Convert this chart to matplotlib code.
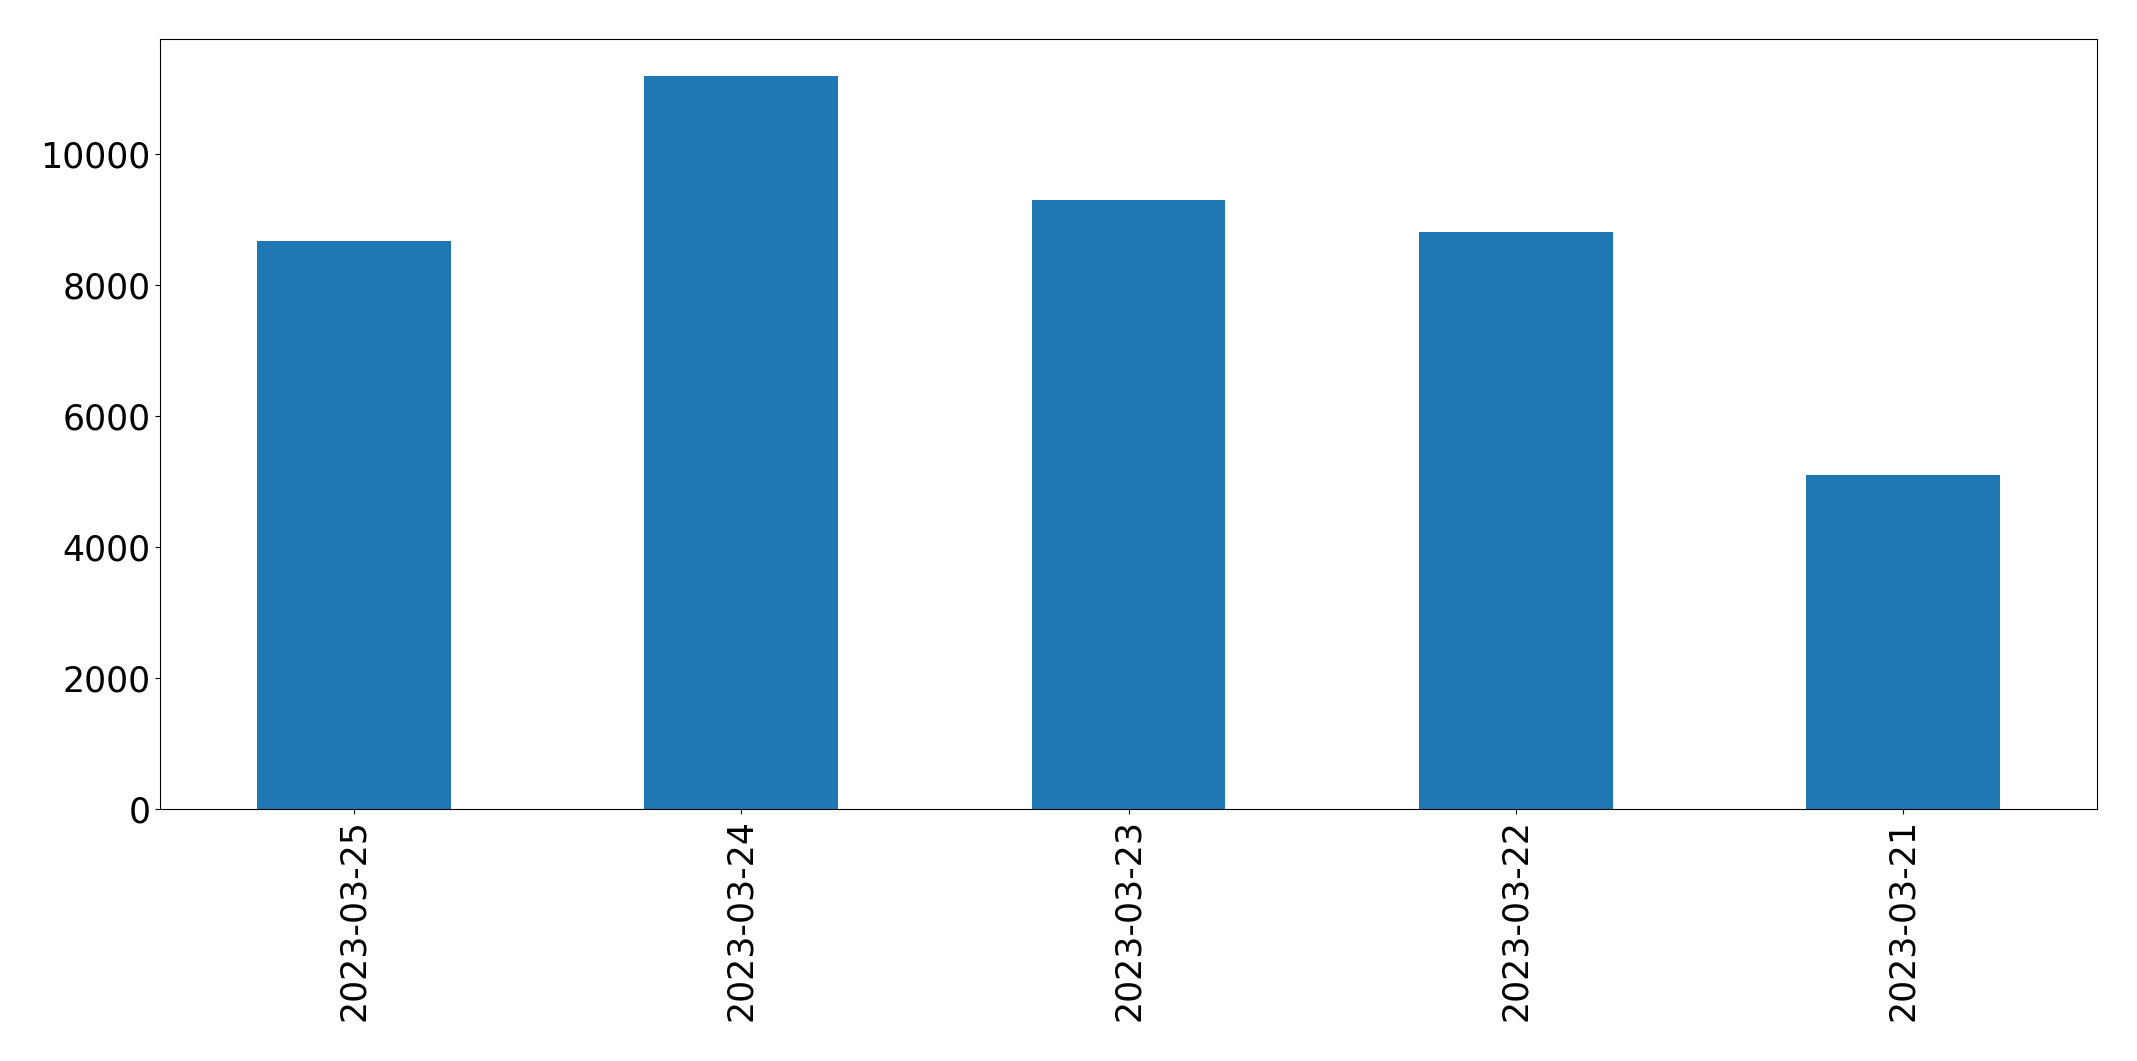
import matplotlib
matplotlib.use("Agg")
import matplotlib.pyplot as plt

dates = ["2023-03-25", "2023-03-24", "2023-03-23", "2023-03-22", "2023-03-21"]
counts = [8680, 11200, 9302, 8813, 5106]

fig, ax = plt.subplots(figsize=(21.37, 10.61), dpi=100)
fig.subplots_adjust(left=0.0749, right=0.9813, top=0.963, bottom=0.2375)

pos = range(len(dates))
ax.bar(pos, counts, width=0.5, color="#1f77b4")
ax.set_xlim(-0.5, len(dates) - 0.5)
ax.set_xticks(list(pos))
ax.set_xticklabels(dates, rotation=90)
ax.set_yticks([0, 2000, 4000, 6000, 8000, 10000])
ax.tick_params(axis="both", labelsize=25)

fig.savefig("out.png", dpi=100)
